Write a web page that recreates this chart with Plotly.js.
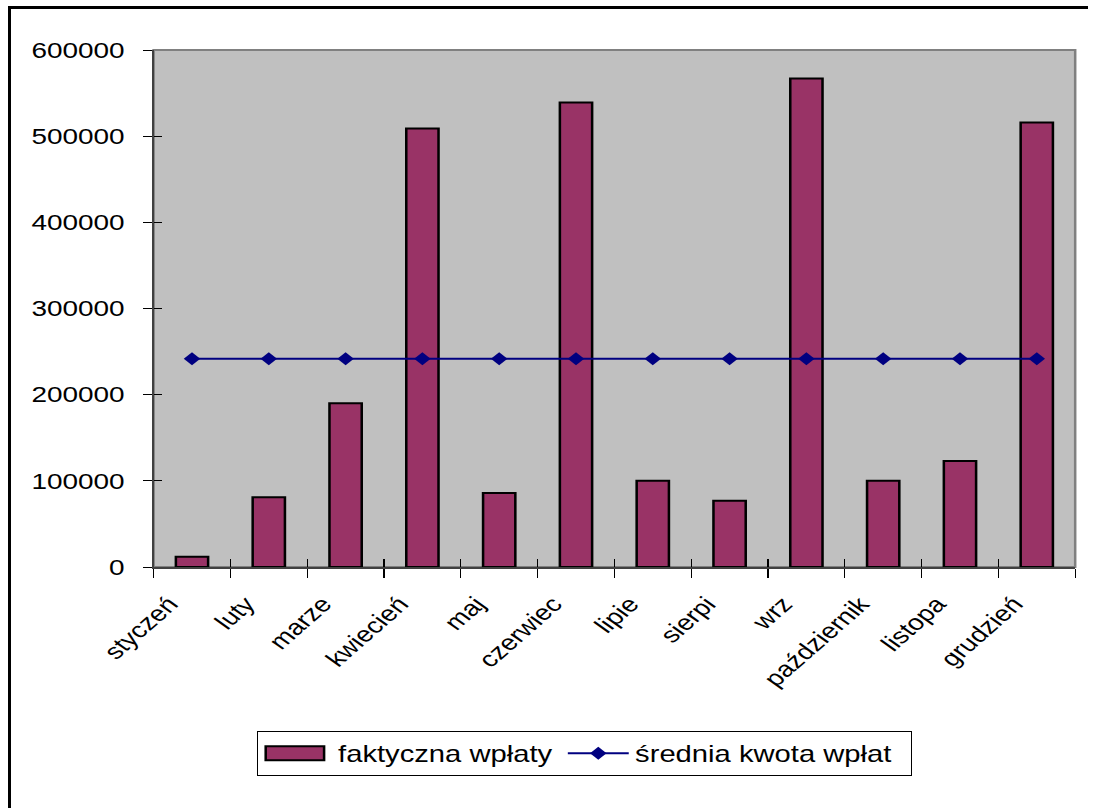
<!DOCTYPE html>
<html><head><meta charset="utf-8">
<script src="https://cdn.plot.ly/plotly-3.0.1.min.js"></script>
<style>
html,body{margin:0;padding:0;background:#fff;overflow:hidden;width:1098px;height:808px;}
#frameTop{position:absolute;left:8px;top:6px;width:1080px;height:3px;background:#000;z-index:2;pointer-events:none;}
#frameLeft{position:absolute;left:8px;top:6px;width:3px;height:810px;background:#000;z-index:2;pointer-events:none;}
#chart{position:absolute;left:0;top:0;width:865px;height:808px;transform:scaleX(1.2694);transform-origin:0 0;}
</style></head><body>
<div id="frameTop"></div>
<div id="frameLeft"></div>
<div id="chart"></div>
<script>
// Data
const months = ["styczeń", "luty", "marze", "kwiecień", "maj", "czerwiec", "lipie", "sierpi", "wrz", "październik", "listopa", "grudzień"];
const actualPayments = [12000, 81000, 190000, 509000, 86000, 539000, 100000, 77000, 567000, 100000, 123000, 516000];
const averagePayment = [241700, 241700, 241700, 241700, 241700, 241700, 241700, 241700, 241700, 241700, 241700, 241700];
const seriesNames = ["faktyczna wpłaty", "średnia kwota wpłat"];
const yTicks = [0, 100000, 200000, 300000, 400000, 500000, 600000];

const font = "Liberation Sans, Arial, sans-serif";

// category boundaries for the inner half of the crossing x ticks
const boundaries = months.map((m, i) => i - 0.5).concat([months.length - 0.5]);

const traces = [
  {
    type: "bar",
    name: seriesNames[0],
    x: months,
    y: actualPayments,
    width: 0.42,
    legendwidth: 176,
    marker: {color: "#993366", line: {color: "#000000", width: 2}}
  },
  {
    type: "scatter",
    mode: "lines+markers",
    name: seriesNames[1],
    x: months,
    y: averagePayment,
    legendwidth: 212,
    line: {color: "#000080", width: 2},
    marker: {symbol: "diamond", size: 10, color: "#000080"}
  },
  {
    type: "scatter", x: [], y: [], xaxis: "x2", yaxis: "y2",
    showlegend: false, hoverinfo: "skip"
  }
];

const layout = {
  width: 865,
  height: 808,
  margin: {l: 121.3, r: 18.1, t: 50, b: 241, pad: 0},
  paper_bgcolor: "rgba(0,0,0,0)",
  plot_bgcolor: "#C0C0C0",
  font: {family: font, size: 22, color: "#000"},
  showlegend: true,
  xaxis: {
    type: "category",
    range: [-0.5, months.length - 0.5],
    tickson: "boundaries",
    ticks: "outside",
    ticklen: 9,
    tickwidth: 1,
    tickcolor: "#000",
    showline: true,
    linecolor: "#404040",
    linewidth: 1.5,
    showgrid: false,
    zeroline: false,
    tickangle: -48,
    ticklabelshift: -18,
    ticklabelstandoff: 14,
    tickfont: {family: font, size: 22, color: "#000"}
  },
  yaxis: {
    range: [0, 600000],
    tickvals: yTicks,
    ticktext: yTicks.map(v => String(v)),
    ticks: "outside",
    ticklen: 7,
    tickwidth: 1,
    tickcolor: "#000",
    showline: true,
    linecolor: "#404040",
    linewidth: 1.5,
    showgrid: false,
    zeroline: false,
    ticklabelstandoff: 10,
    tickfont: {family: font, size: 22, color: "#000"}
  },
  xaxis2: {
    overlaying: "x",
    anchor: "y2",
    range: [-0.5, months.length - 0.5],
    tickvals: boundaries,
    ticks: "inside",
    ticklen: 8,
    tickwidth: 1,
    tickcolor: "#000",
    showticklabels: false,
    showline: false,
    showgrid: false,
    zeroline: false
  },
  yaxis2: {
    overlaying: "y",
    anchor: "x2",
    range: [0, 600000],
    tickvals: yTicks,
    ticks: "inside",
    ticklen: 7,
    tickwidth: 1,
    tickcolor: "#000",
    showticklabels: false,
    showline: false,
    showgrid: false,
    zeroline: false
  },
  shapes: [
    {type: "rect", xref: "paper", yref: "paper", x0: 0, x1: 1, y0: 0, y1: 1,
     line: {color: "#808080", width: 2}, layer: "below"}
  ],
  legend: {
    orientation: "h",
    x: 0.112, xanchor: "left",
    y: -0.317, yanchor: "top",
    bgcolor: "#ffffff",
    bordercolor: "#000000",
    borderwidth: 1,
    font: {family: font, size: 23, color: "#000"},
    itemwidth: 48,
    traceorder: "normal"
  }
};

function adjustLegend() {
  const items = document.querySelectorAll("#chart .legend .traces");
  if (!items.length) return;
  const p = items[0].querySelector(".legendpoints path");
  if (p) p.setAttribute("d", "M23,7H-23V-7H23Z");
  const t = items[0].querySelector("text.legendtext");
  if (t) t.setAttribute("transform", "translate(5,0)");
}

Plotly.newPlot("chart", traces, layout, {displayModeBar: false, staticPlot: true}).then(gd => {
  adjustLegend();
  gd.on("plotly_afterplot", adjustLegend);
});
</script>
</body></html>
